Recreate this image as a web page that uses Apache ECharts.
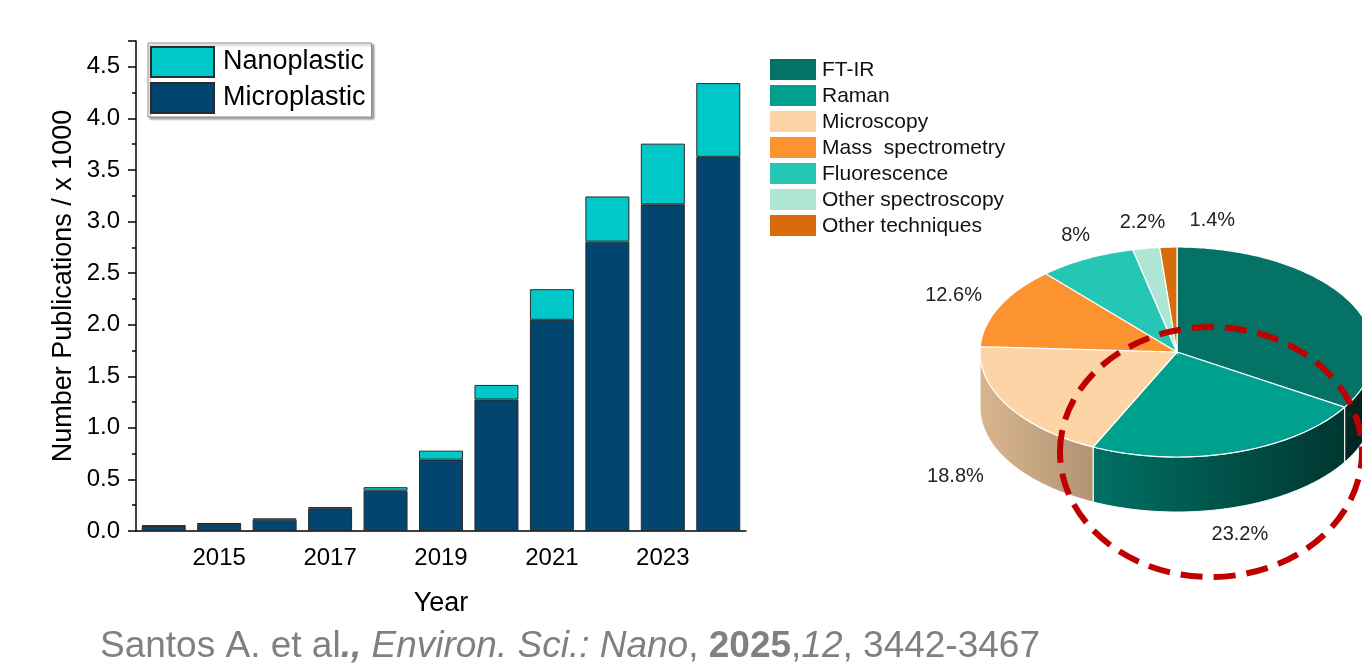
<!DOCTYPE html>
<html>
<head>
<meta charset="utf-8">
<script src="https://cdn.jsdelivr.net/npm/echarts@6/dist/echarts.min.js"></script>
<style>
  html, body { margin: 0; padding: 0; background: #ffffff; }
  #chart { width: 1362px; height: 669px; }
</style>
</head>
<body>
<div id="chart"></div>
<script>
// Publications per year (thousands), stacked by particle size
const years = ['2014', '2015', '2016', '2017', '2018', '2019', '2020', '2021', '2022', '2023', '2024'];
const microplastic = [0.048, 0.070, 0.110, 0.220, 0.390, 0.692, 1.274, 2.047, 2.805, 3.167, 3.627];
const nanoplastic  = [0.006, 0.006, 0.012, 0.012, 0.035, 0.087, 0.142, 0.297, 0.438, 0.588, 0.715];

// Share of analytical techniques (%)
const techniques = ['FT-IR', 'Raman', 'Microscopy', 'Mass  spectrometry', 'Fluorescence', 'Other spectroscopy', 'Other techniques'];
const techniqueShares = [33.8, 23.2, 18.8, 12.6, 8, 2.2, 1.4];
const techniqueColors = ['#047366', '#00a08f', '#fdd4a6', '#fc9230', '#26c6b5', '#aee6d6', '#d86b0c'];

// Slice label horizontal nudges (px) so the thin slices' labels do not collide
const labelShiftX = [0, 0, -4, 4, 0, 0, 45];

const FONT = '"Liberation Sans", Arial, sans-serif';

// ----- pseudo-3D pie geometry -----
const pie = { cx: 1177, cy: 352, rx: 197, ry: 105, depth: 55 };
const shareTotal = techniqueShares.reduce((a, b) => a + b, 0);
const shareStart = [];
techniqueShares.reduce((acc, v, i) => { shareStart[i] = acc; return acc + v; }, 0);

function ellipsePoint(deg, dy) {
  const r = deg * Math.PI / 180;
  return [pie.cx + pie.rx * Math.sin(r), pie.cy - pie.ry * Math.cos(r) + (dy || 0)];
}
function arcPoints(a, b, dy) {
  const n = Math.max(2, Math.ceil(Math.abs(b - a)));
  const pts = [];
  for (let k = 0; k <= n; k++) pts.push(ellipsePoint(a + (b - a) * k / n, dy));
  return pts;
}
function shade(hex, f) {
  const n = parseInt(hex.slice(1), 16);
  const r = Math.round(((n >> 16) & 255) * f);
  const g = Math.round(((n >> 8) & 255) * f);
  const b = Math.round((n & 255) * f);
  return 'rgb(' + r + ',' + g + ',' + b + ')';
}

function renderSlice(params, api) {
  const i = params.dataIndex;
  const share = api.value(0);
  const a0 = shareStart[i] / shareTotal * 360;
  const a1 = a0 + share / shareTotal * 360;
  const color = techniqueColors[i];
  const children = [];

  // side wall: only the front half of the rim is visible (90..270 deg)
  const w0 = Math.max(a0, 90), w1 = Math.min(a1, 270);
  if (w1 > w0) {
    const top = arcPoints(w0, w1, 0);
    const bottom = arcPoints(w1, w0, pie.depth);
    children.push({
      type: 'polygon',
      shape: { points: top.concat(bottom) },
      style: {
        fill: {
          type: 'linear', x: pie.cx - pie.rx, y: 0, x2: pie.cx + pie.rx, y2: 0, global: true,
          colorStops: [{ offset: 0, color: shade(color, 0.86) }, { offset: 1, color: shade(color, 0.30) }]
        },
        stroke: '#ffffff', lineWidth: 1
      }
    });
  }

  // top face
  children.push({
    type: 'polygon',
    shape: { points: [[pie.cx, pie.cy]].concat(arcPoints(a0, a1, 0)) },
    style: { fill: color, stroke: '#ffffff', lineWidth: 1.2 }
  });

  // value label outside the rim
  const mid = (a0 + a1) / 2 * Math.PI / 180;
  const s = Math.sin(mid), c = Math.cos(mid);
  const lx = pie.cx + pie.rx * 1.12 * s + labelShiftX[i];
  const ly = pie.cy - pie.ry * 1.25 * c + (c < 0 ? pie.depth + 2 : 0);
  const align = s > 0.6 ? 'left' : (s < -0.6 ? 'right' : 'center');
  if (lx < api.getWidth() - 10) {
    children.push({
      type: 'text',
      style: {
        x: lx, y: ly, text: share + '%', align: align, verticalAlign: 'middle',
        font: '20px ' + FONT, fill: '#222222'
      }
    });
  }
  return { type: 'group', children: children };
}

// ----- legend of the pie, built from the technique list -----
const pieLegend = [];
techniques.forEach((name, i) => {
  pieLegend.push({
    type: 'rect', shape: { x: 770, y: 59 + 26 * i, width: 46, height: 21 },
    style: { fill: techniqueColors[i] }
  });
  pieLegend.push({
    type: 'text', x: 822, y: 70 + 26 * i,
    style: { text: name, font: '21px ' + FONT, fill: '#111111', verticalAlign: 'middle' }
  });
});

const chart = echarts.init(document.getElementById('chart'), null, { renderer: 'canvas' });

const tickLine = { color: '#000000', width: 1.5 };

chart.setOption({
  animation: false,
  backgroundColor: '#ffffff',
  grid: { left: 136, right: 616, top: 41, bottom: 138, containLabel: false },
  legend: {
    data: ['Nanoplastic', 'Microplastic'],
    orient: 'vertical', left: 148, top: 43,
    itemWidth: 63, itemHeight: 30, itemGap: 4,
    padding: [3, 6, 3, 2],
    icon: 'rect',
    selectedMode: false,
    backgroundColor: '#ffffff',
    borderColor: '#8c8c8c', borderWidth: 1,
    shadowColor: 'rgba(0,0,0,0.35)', shadowBlur: 2, shadowOffsetX: 2, shadowOffsetY: 2,
    textStyle: { fontSize: 27, color: '#000000', fontFamily: FONT, padding: [0, 0, 0, 4] }
  },
  xAxis: [
    {
      type: 'category', data: years, position: 'bottom',
      axisLine: { lineStyle: tickLine },
      axisTick: { alignWithLabel: true, length: 8, lineStyle: tickLine, interval: (i) => i % 2 === 1 },
      axisLabel: { interval: (i) => i % 2 === 1, fontSize: 24, color: '#000000', fontFamily: FONT, margin: 15 },
      name: 'Year', nameLocation: 'middle', nameGap: 59,
      nameTextStyle: { fontSize: 27, color: '#000000', fontFamily: FONT }
    },
    {
      type: 'category', data: years, position: 'bottom',
      axisLine: { show: false },
      axisTick: { alignWithLabel: true, length: 5, lineStyle: tickLine, interval: (i) => i % 2 === 0 },
      axisLabel: { show: false }
    }
  ],
  yAxis: {
    type: 'value', min: 0, max: 4.75, interval: 0.5,
    axisLine: { show: true, lineStyle: tickLine },
    axisTick: { show: true, length: 8, lineStyle: tickLine },
    minorTick: { show: true, splitNumber: 2, length: 4, lineStyle: tickLine },
    splitLine: { show: false },
    axisLabel: {
      fontSize: 24, color: '#000000', fontFamily: FONT, margin: 16, showMaxLabel: false,
      formatter: (v) => (Math.abs(v * 2 - Math.round(v * 2)) < 1e-6 ? v.toFixed(1) : '')
    },
    name: 'Number Publications / x 1000', nameLocation: 'middle', nameGap: 59,
    nameTextStyle: { fontSize: 27, color: '#000000', fontFamily: FONT }
  },
  series: [
    {
      name: 'Microplastic', type: 'bar', stack: 'pubs', data: microplastic, barWidth: 44,
      itemStyle: { color: '#02466f', borderColor: '#2b2b2b', borderWidth: 1 }
    },
    {
      name: 'Nanoplastic', type: 'bar', stack: 'pubs', data: nanoplastic, barWidth: 44,
      itemStyle: { color: '#00c8c8', borderColor: '#2b2b2b', borderWidth: 1 }
    },
    {
      name: 'Techniques', type: 'custom', coordinateSystem: 'none',
      data: techniques.map((n, i) => ({ name: n, value: [techniqueShares[i]] })),
      renderItem: renderSlice,
      silent: true, z: 5
    }
  ],
  graphic: [
    { type: 'group', children: pieLegend },
    {
      // highlight ring around the Raman slice
      type: 'ellipse', z: 100,
      shape: { cx: 1211, cy: 452, rx: 151, ry: 125 },
      style: { fill: 'none', stroke: '#c00000', lineWidth: 6, lineDash: [22, 11] }
    },
    {
      type: 'text', left: 100, top: 628, z: 100,
      style: {
        text: '{n|Santos A. et al}{bi|.,} {i|Environ. Sci.: Nano}{n|, }{b|2025}{n|,}{i|12}{n|, 3442-3467}',
        rich: {
          n:  { fontFamily: FONT, fontSize: 37, color: '#808080' },
          i:  { fontFamily: FONT, fontSize: 37, color: '#808080', fontStyle: 'italic' },
          b:  { fontFamily: FONT, fontSize: 37, color: '#808080', fontWeight: 'bold' },
          bi: { fontFamily: FONT, fontSize: 37, color: '#808080', fontWeight: 'bold', fontStyle: 'italic' }
        },
        font: '37px ' + FONT, fill: '#808080'
      }
    }
  ]
});
</script>
</body>
</html>
